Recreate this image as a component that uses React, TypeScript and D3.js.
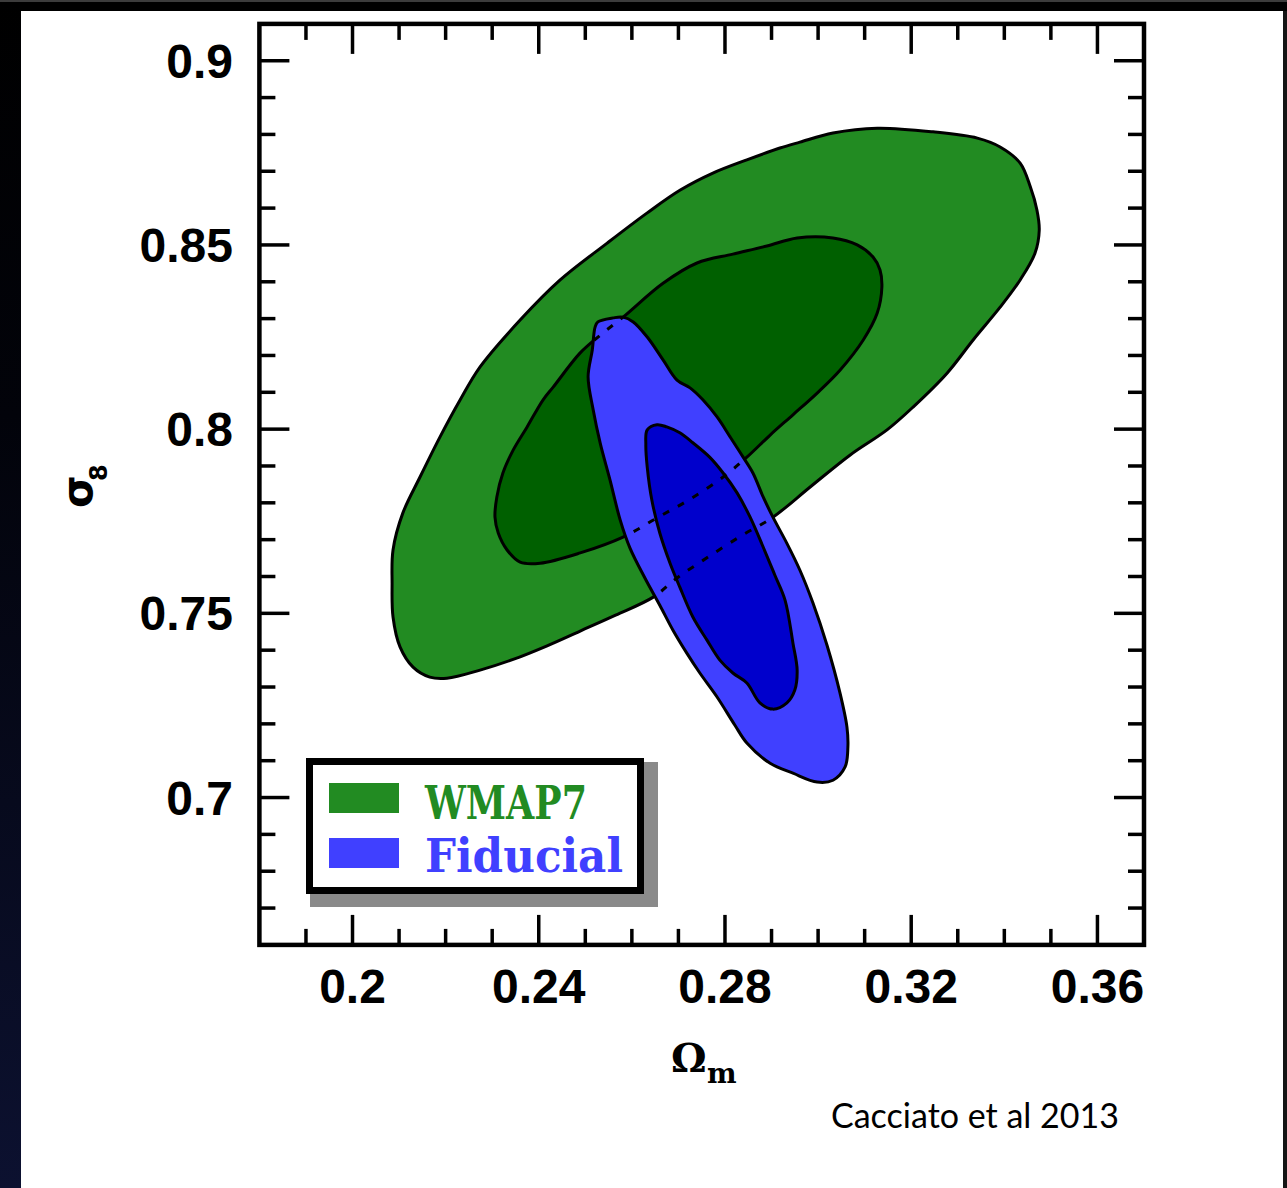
import React from "react";
import * as d3 from "d3";

// ---- data (Omega_m, sigma_8) ----
const wmapOuter: [number, number][] = [
  [0.2085, 0.7582], [0.2087, 0.7672], [0.2108, 0.7772], [0.2145, 0.787], [0.2188, 0.7979],
  [0.2231, 0.8079], [0.2274, 0.8169], [0.236, 0.8296], [0.2446, 0.8405], [0.2547, 0.8505],
  [0.2633, 0.8587], [0.2704, 0.8649], [0.2774, 0.8695], [0.2847, 0.8731], [0.2918, 0.8763],
  [0.2961, 0.8779], [0.3032, 0.8804], [0.3127, 0.8817], [0.3247, 0.8807], [0.3342, 0.879],
  [0.3391, 0.8766], [0.3434, 0.8722], [0.3456, 0.8657], [0.347, 0.8595], [0.3475, 0.854],
  [0.3466, 0.8478], [0.3434, 0.8405], [0.3391, 0.8331], [0.3333, 0.8242], [0.3277, 0.8152],
  [0.3204, 0.806], [0.3148, 0.7998], [0.3069, 0.793], [0.2983, 0.7843], [0.2903, 0.7761],
  [0.2837, 0.7712], [0.2764, 0.7653], [0.2697, 0.7596], [0.2646, 0.7544], [0.2565, 0.7495],
  [0.2489, 0.7452], [0.2418, 0.7412], [0.2345, 0.7375], [0.2274, 0.7346], [0.2203, 0.7324],
  [0.2166, 0.7327], [0.213, 0.7354], [0.2102, 0.7409], [0.2087, 0.749],
];
const wmapInner: [number, number][] = [
  [0.2306, 0.7761], [0.231, 0.7816], [0.2323, 0.7881], [0.2345, 0.7943], [0.2375, 0.8006],
  [0.2409, 0.8079], [0.2431, 0.8114], [0.2489, 0.8207], [0.2532, 0.8255], [0.2581, 0.8304],
  [0.2667, 0.8396], [0.274, 0.8451], [0.2817, 0.8475], [0.289, 0.8497], [0.2955, 0.8519],
  [0.3032, 0.8519], [0.3084, 0.85], [0.3118, 0.8467], [0.3133, 0.8432], [0.3137, 0.8386],
  [0.3127, 0.8315], [0.3097, 0.8242], [0.3047, 0.816], [0.2998, 0.8098], [0.2946, 0.8039],
  [0.2897, 0.7984], [0.2847, 0.7924], [0.2796, 0.787], [0.2725, 0.781], [0.2654, 0.7759],
  [0.2581, 0.7707], [0.2489, 0.7664], [0.2403, 0.7636], [0.236, 0.7639], [0.2332, 0.7672],
  [0.2313, 0.7718],
];
const fidOuter: [number, number][] = [
  [0.2527, 0.8291], [0.256, 0.8302], [0.2581, 0.8304], [0.2603, 0.8291], [0.2633, 0.825],
  [0.2667, 0.8188], [0.2697, 0.8133], [0.2725, 0.8112], [0.2753, 0.8079], [0.2783, 0.8033],
  [0.2811, 0.7979], [0.2839, 0.7924], [0.286, 0.7881], [0.2882, 0.7816], [0.2903, 0.7761],
  [0.2933, 0.769], [0.2961, 0.7617], [0.2989, 0.7528], [0.3019, 0.7414], [0.3047, 0.7284],
  [0.3062, 0.7191], [0.3064, 0.7137], [0.3058, 0.7083], [0.3032, 0.7047], [0.2998, 0.7042],
  [0.2946, 0.7066], [0.2897, 0.7093], [0.2847, 0.7148], [0.2821, 0.7197], [0.2783, 0.7273],
  [0.2746, 0.7338], [0.2718, 0.7392], [0.2688, 0.7455], [0.266, 0.7522], [0.2628, 0.7596],
  [0.2596, 0.7677], [0.2575, 0.7753], [0.2553, 0.7862], [0.2532, 0.7962], [0.2517, 0.8052],
  [0.2506, 0.8142], [0.2515, 0.8215], [0.2521, 0.8277],
];
const fidInner: [number, number][] = [
  [0.2633, 0.7998], [0.2654, 0.8012], [0.2675, 0.8006], [0.2703, 0.799], [0.2731, 0.7963],
  [0.2767, 0.7924], [0.2796, 0.7881], [0.2826, 0.7827], [0.2854, 0.7761], [0.2882, 0.768],
  [0.2907, 0.7604], [0.2929, 0.7536], [0.2946, 0.7419], [0.2955, 0.7346], [0.295, 0.7292],
  [0.2933, 0.7257], [0.2903, 0.724], [0.2875, 0.7257], [0.2847, 0.7311], [0.2817, 0.7338],
  [0.2789, 0.7373], [0.2761, 0.7428], [0.2731, 0.749], [0.2703, 0.7571], [0.2682, 0.7636],
  [0.266, 0.7718], [0.2643, 0.7807], [0.2633, 0.7897], [0.263, 0.7957],
];

const xMajorTicks = [0.2, 0.24, 0.28, 0.32, 0.36];
const xTickLabels = ["0.2", "0.24", "0.28", "0.32", "0.36"];
const yMajorTicks = [0.7, 0.75, 0.8, 0.85, 0.9];
const yTickLabels = ["0.7", "0.75", "0.8", "0.85", "0.9"];
const legendLabels = ["WMAP7", "Fiducial"];
const xDomain: [number, number] = [0.18, 0.37];
const yDomain: [number, number] = [0.66, 0.91];

const W = 1287, H = 1188;
const L = 259.4, R = 1144, T = 23.9, B = 944.9;

const C_GREEN = "#228b22", C_DGREEN = "#006000", C_BLUE = "#4040ff", C_DBLUE = "#0000cc";

export default function App() {
  const x = d3.scaleLinear().domain(xDomain).range([L, R]);
  const y = d3.scaleLinear().domain(yDomain).range([B, T]);
  const line = d3
    .line<[number, number]>()
    .x((d) => x(d[0]))
    .y((d) => y(d[1]))
    .curve(d3.curveCatmullRomClosed.alpha(0.5));

  const xMinor = d3.range(19, 37).map((v) => v / 100).filter((v) => !xMajorTicks.some((m) => Math.abs(m - v) < 1e-6));
  const yMinor = d3.range(67, 91).map((v) => v / 100).filter((v) => !yMajorTicks.some((m) => Math.abs(m - v) < 1e-6));
  const MAJ = 30, MIN = 16;
  const tickStyle = { stroke: "#000", strokeWidth: 3.5 };

  return (
    <svg width={W} height={H} style={{ position: "absolute", left: 0, top: 0, display: "block" }}>
      <defs>
        <linearGradient id="leftbg" x1="0" y1="0" x2="0" y2="1">
          <stop offset="0" stopColor="#000" />
          <stop offset="0.35" stopColor="#02030a" />
          <stop offset="1" stopColor="#0c1130" />
        </linearGradient>
        <clipPath id="fidclip">
          <path d={line(fidOuter) ?? ""} />
        </clipPath>
      </defs>
      <rect x={0} y={0} width={W} height={H} fill="#000" />
      <rect x={0} y={0} width={21} height={H} fill="url(#leftbg)" />
      <rect x={0} y={0} width={W} height={2} fill="#3c3c3c" />
      <rect x={1283} y={11} width={4} height={H} fill="#151515" />
      <rect x={21} y={11} width={1262} height={H - 11} fill="#fff" />

      {/* contours */}
      <path d={line(wmapOuter) ?? ""} fill={C_GREEN} stroke="#000" strokeWidth={3} />
      <path d={line(wmapInner) ?? ""} fill={C_DGREEN} stroke="#000" strokeWidth={3} />
      <path d={line(fidOuter) ?? ""} fill={C_BLUE} stroke="#000" strokeWidth={3} />
      <path d={line(fidInner) ?? ""} fill={C_DBLUE} stroke="#000" strokeWidth={3} />
      <g clipPath="url(#fidclip)">
        <path d={line(wmapOuter) ?? ""} fill="none" stroke="#000" strokeWidth={3} strokeDasharray="7,10" />
        <path d={line(wmapInner) ?? ""} fill="none" stroke="#000" strokeWidth={3} strokeDasharray="7,10" />
      </g>

      {/* ticks */}
      {xMajorTicks.map((v) => (
        <g key={"xm" + v}>
          <line x1={x(v)} x2={x(v)} y1={B} y2={B - MAJ} {...tickStyle} />
          <line x1={x(v)} x2={x(v)} y1={T} y2={T + MAJ} {...tickStyle} />
        </g>
      ))}
      {xMinor.map((v) => (
        <g key={"xn" + v}>
          <line x1={x(v)} x2={x(v)} y1={B} y2={B - MIN} {...tickStyle} />
          <line x1={x(v)} x2={x(v)} y1={T} y2={T + MIN} {...tickStyle} />
        </g>
      ))}
      {yMajorTicks.map((v) => (
        <g key={"ym" + v}>
          <line y1={y(v)} y2={y(v)} x1={L} x2={L + MAJ} {...tickStyle} />
          <line y1={y(v)} y2={y(v)} x1={R} x2={R - MAJ} {...tickStyle} />
        </g>
      ))}
      {yMinor.map((v) => (
        <g key={"yn" + v}>
          <line y1={y(v)} y2={y(v)} x1={L} x2={L + MIN} {...tickStyle} />
          <line y1={y(v)} y2={y(v)} x1={R} x2={R - MIN} {...tickStyle} />
        </g>
      ))}
      <rect x={L} y={T} width={R - L} height={B - T} fill="none" stroke="#000" strokeWidth={4.5} />

      {/* tick labels */}
      <g fontFamily="'Liberation Sans', Arial, sans-serif" fontWeight="bold" fontSize={48} fill="#000">
        {xMajorTicks.map((v, i) => (
          <text key={"xl" + v} x={x(v)} y={1003} textAnchor="middle">
            {xTickLabels[i]}
          </text>
        ))}
        {yMajorTicks.map((v, i) => (
          <text key={"yl" + v} x={233} y={y(v) + 17} textAnchor="end">
            {yTickLabels[i]}
          </text>
        ))}
      </g>

      {/* axis titles */}
      <text x={671} y={1072} fontFamily="'DejaVu Serif', serif" fontWeight="bold" fontSize={40} fill="#000">
        Ω
      </text>
      <text x={707} y={1083} fontFamily="'DejaVu Serif', serif" fontWeight="bold" fontSize={28} fill="#000">
        m
      </text>
      <g transform="rotate(-90)">
        <text fontFamily="'DejaVu Sans', sans-serif" fontWeight="bold" fill="#000">
          <tspan x={-508} y={92} fontSize={42}>σ</tspan>
          <tspan x={-481} y={107} fontSize={24}>8</tspan>
        </text>
      </g>

      {/* legend */}
      <rect x={310} y={762} width={348} height={145} fill="#8a8a8a" />
      <rect x={309.5} y={761.5} width={331} height={129} fill="#fff" stroke="#000" strokeWidth={7} />
      <rect x={329} y={783} width={70} height={30} fill={C_GREEN} />
      <rect x={329} y={838} width={70} height={30} fill={C_BLUE} />
      <g fontFamily="'DejaVu Serif', serif" fontWeight="bold" fontSize={46}>
        <text x={425} y={819} fill={C_GREEN} textLength={162} lengthAdjust="spacingAndGlyphs">
          {legendLabels[0]}
        </text>
        <text x={425} y={872} fill={C_BLUE} textLength={198} lengthAdjust="spacingAndGlyphs">
          {legendLabels[1]}
        </text>
      </g>

      <text x={831} y={1128} fontFamily="Lato, 'Open Sans', sans-serif" fontSize={35} fill="#000" textLength={288} lengthAdjust="spacingAndGlyphs">
        Cacciato et al 2013
      </text>
    </svg>
  );
}
